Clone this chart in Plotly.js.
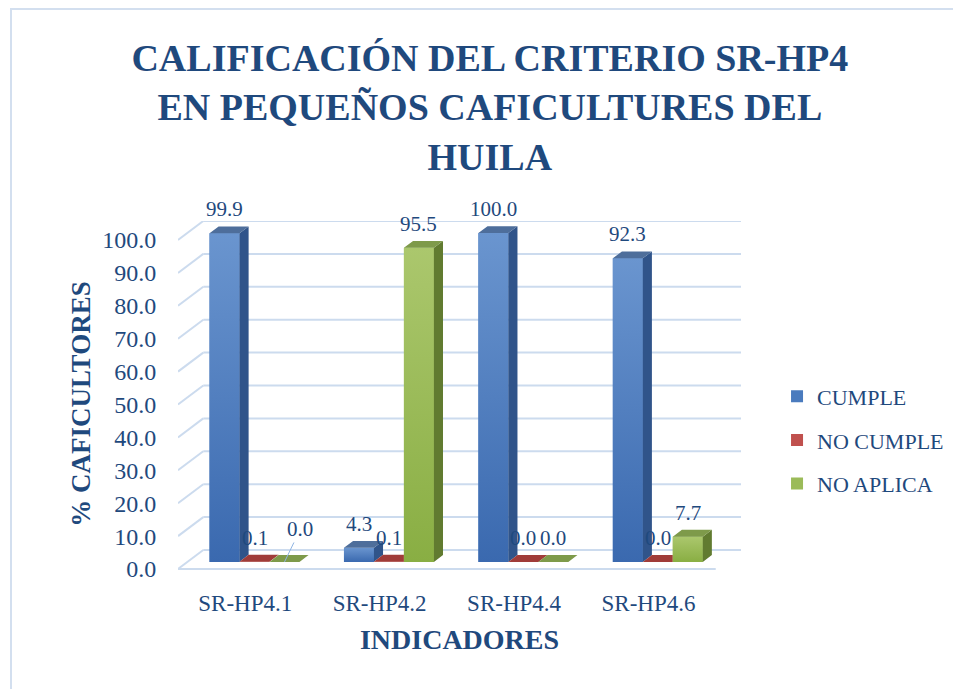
<!DOCTYPE html>
<html>
<head>
<meta charset="utf-8">
<script src="https://cdn.plot.ly/plotly-3.0.1.min.js"></script>
<style>
html,body{margin:0;padding:0;background:#ffffff;}
#chart{width:953px;height:689px;}
</style>
</head>
<body>
<div id="chart"></div>
<script>
// ---------------- DATA ----------------
const categories = ['SR-HP4.1', 'SR-HP4.2', 'SR-HP4.4', 'SR-HP4.6'];
const seriesNames = ['CUMPLE', 'NO CUMPLE', 'NO APLICA'];
const cumple   = [99.9, 4.3, 100.0, 92.3];
const noCumple = [0.1, 0.1, 0.0, 0.0];
const noAplica = [0.0, 95.5, 0.0, 7.7];
const yTickValues = [0, 10, 20, 30, 40, 50, 60, 70, 80, 90, 100];

// ---------------- STYLE ----------------
const TEXT = '#1F497D';
const FONT = 'Liberation Serif';
const GRID = '#CCDBEE';
const palette = [
  {front: '#4A7BBE', light: '#6A95CF', dark: '#3A69AF', side: '#30548A', top: '#4E6E9B'},
  {front: '#C0504D', light: '#CF625F', dark: '#A83E3B', side: '#7F2B29', top: '#A03C39'},
  {front: '#9BBB59', light: '#ABC76D', dark: '#89AE43', side: '#617B30', top: '#7E9A4A'}
];

// pseudo-3D projection (depth vector in data units)
const DEPTH_X = 0.188, DEPTH_Y = 5.78;
const D_FRONT = 0.37, D_BACK = 0.73;
const BAR_W = 0.223;
const GROUP_LEFT = -0.335;
const X_MIN = -0.5, X_MAX = categories.length - 0.5;
const Y_MIN = -5.47, Y_MAX = 100 + DEPTH_Y;

const idx = categories.map((_, i) => i);
const series = [cumple, noCumple, noAplica];

// ---------------- WALLS / GRID (shapes below the bars) ----------------
const shapes = [];
const gridLine = {color: GRID, width: 2};
yTickValues.forEach(t => {
  shapes.push({type: 'line', xref: 'x', yref: 'y', layer: 'below',
    x0: X_MIN, y0: t, x1: X_MIN + DEPTH_X, y1: t + DEPTH_Y, line: gridLine});
  shapes.push({type: 'line', xref: 'x', yref: 'y', layer: 'below',
    x0: X_MIN + DEPTH_X, y0: t + DEPTH_Y, x1: X_MAX + DEPTH_X, y1: t + DEPTH_Y, line: gridLine});
});
shapes.push({type: 'line', xref: 'x', yref: 'y', layer: 'below',
  x0: X_MIN, y0: 0, x1: X_MAX, y1: 0, line: gridLine});
shapes.push({
  type: 'rect', xref: 'paper', yref: 'paper', layer: 'below',
  x0: (11 - 178) / 563, x1: (1000 - 178) / 563,
  y0: (587 - 1000) / 366, y1: (587 - 9) / 366,
  line: {color: '#D3DFEF', width: 2}, fillcolor: 'rgba(0,0,0,0)'
});

const traces = [];
const fX = D_FRONT * DEPTH_X, fY = D_FRONT * DEPTH_Y;
const bX = D_BACK * DEPTH_X, bY = D_BACK * DEPTH_Y;

// ---------------- FRONT FACES (bars) ----------------
series.forEach((vals, s) => {
  traces.push({
    type: 'bar', name: seriesNames[s], legendgroup: seriesNames[s],
    x: idx, y: vals, base: fY,
    offset: GROUP_LEFT + s * BAR_W + fX, width: BAR_W,
    marker: {color: palette[s].front, line: {width: 0}},
    hoverinfo: 'skip'
  });
});

// ---------------- GRADIENT SHADING, SIDE & TOP FACES ----------------
series.forEach((vals, s) => {
  const sx = [], sy = [], tx = [], ty = [];
  idx.forEach(i => {
    const v = vals[i];
    const next = s < series.length - 1 ? series[s + 1][i] : null;
    const L = i + GROUP_LEFT + s * BAR_W;
    const R = L + BAR_W;
    if (v > 0) {
      traces.push({
        type: 'scatter', mode: 'lines',
        x: [L + fX, R + fX, R + fX, L + fX, L + fX],
        y: [fY, fY, v + fY, v + fY, fY],
        fill: 'toself', line: {width: 0, color: palette[s].front},
        fillgradient: {type: 'vertical',
          colorscale: [[0, palette[s].dark], [1, palette[s].light]]},
        hoverinfo: 'skip', showlegend: false
      });
    }
    const low = next === null ? 0 : Math.min(next, v);
    if (v > low) {
      sx.push(R + fX, R + bX, R + bX, R + fX, R + fX, null);
      sy.push(low + fY, low + bY, v + bY, v + fY, low + fY, null);
    }
    if (next !== null && next > v) {
      tx.push(L + fX, R + fX, R + fX, L + bX, L + fX, null);
      ty.push(v + fY, v + fY, v + bY, v + bY, v + fY, null);
    } else {
      tx.push(L + fX, R + fX, R + bX, L + bX, L + fX, null);
      ty.push(v + fY, v + fY, v + bY, v + bY, v + fY, null);
    }
  });
  traces.push({
    type: 'scatter', mode: 'lines', x: sx, y: sy, fill: 'toself',
    fillcolor: palette[s].side, line: {width: 0, color: palette[s].side},
    hoverinfo: 'skip', showlegend: false
  });
  traces.push({
    type: 'scatter', mode: 'lines', x: tx, y: ty, fill: 'toself',
    fillcolor: palette[s].top, line: {width: 0, color: palette[s].top},
    hoverinfo: 'skip', showlegend: false
  });
});

// ---------------- DATA LABELS ----------------
const annotations = [];
series.forEach((vals, s) => {
  idx.forEach(i => {
    const xc = i + GROUP_LEFT + (s + 0.5) * BAR_W + fX;
    const yc = vals[i] + fY;
    const a = {
      x: xc, y: yc, xref: 'x', yref: 'y', text: vals[i].toFixed(1),
      font: {family: FONT, size: 21, color: TEXT}, showarrow: false,
      xanchor: 'center', yanchor: 'middle', yshift: 24
    };
    if (s === 2 && i === 0) {
      Object.assign(a, {showarrow: true, ax: 16, ay: -33, arrowhead: 0,
        arrowwidth: 1, arrowcolor: '#8EB4E3', yshift: 0});
    }
    annotations.push(a);
  });
});

// ---------------- LAYOUT ----------------
const layout = {
  width: 953, height: 689,
  margin: {l: 178, r: 212, t: 221, b: 102, autoexpand: false},
  paper_bgcolor: '#ffffff', plot_bgcolor: 'rgba(0,0,0,0)',
  font: {family: FONT, color: TEXT},
  title: {
    text: '<b>CALIFICACIÓN DEL CRITERIO SR-HP4<br>EN PEQUEÑOS CAFICULTURES DEL<br>HUILA</b>',
    font: {family: FONT, size: 38, color: TEXT},
    xref: 'container', x: 0.514, xanchor: 'center',
    yref: 'container', y: 0.897, yanchor: 'middle'
  },
  barmode: 'overlay',
  xaxis: {
    range: [X_MIN, X_MAX + DEPTH_X], tickvals: idx, ticktext: categories,
    showgrid: false, zeroline: false, showline: false,
    ticks: '', ticklabelstandoff: 0,
    tickfont: {family: FONT, size: 23, color: TEXT},
    title: {text: '<b>INDICADORES</b>', standoff: 14,
      font: {family: FONT, size: 28, color: TEXT}},
    fixedrange: true
  },
  yaxis: {
    range: [Y_MIN, Y_MAX], tickvals: yTickValues,
    ticktext: yTickValues.map(v => v.toFixed(1)),
    showgrid: false, zeroline: false, showline: false,
    ticks: 'outside', ticklen: 16, tickcolor: 'rgba(0,0,0,0)',
    tickfont: {family: FONT, size: 24, color: TEXT},
    title: {text: '<b>% CAFICULTORES</b>', standoff: 3,
      font: {family: FONT, size: 27, color: TEXT}},
    fixedrange: true
  },
  legend: {
    x: 1.064, xanchor: 'left', y: 0.4016, yanchor: 'middle',
    font: {family: FONT, size: 22, color: TEXT},
    tracegroupgap: 12, bgcolor: 'rgba(0,0,0,0)', traceorder: 'grouped'
  },
  annotations: annotations,
  shapes: shapes,
  showlegend: true
};

Plotly.newPlot('chart', traces, layout, {displayModeBar: false, staticPlot: true});
</script>
</body>
</html>
